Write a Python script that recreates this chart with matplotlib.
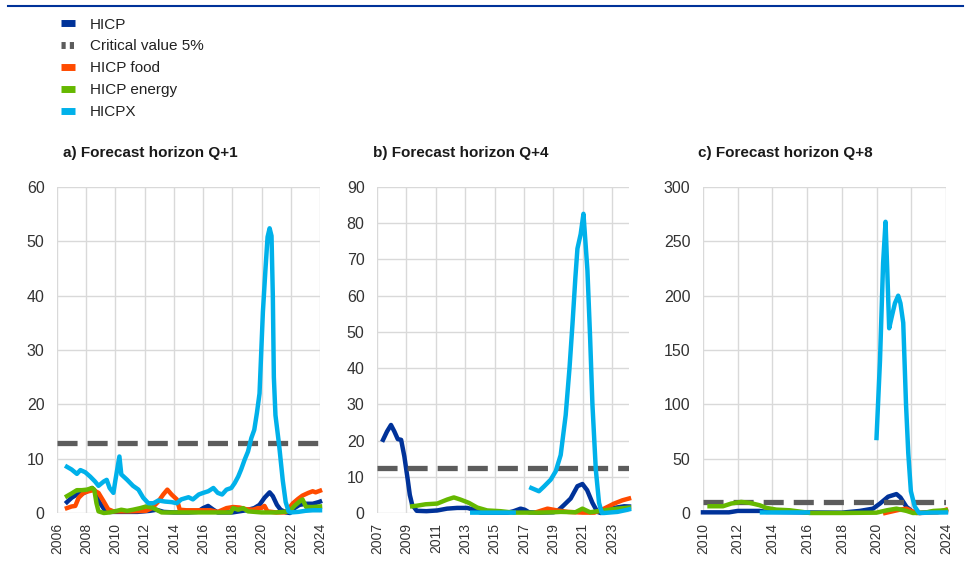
import numpy as np
import matplotlib
matplotlib.use("Agg")
import matplotlib.pyplot as plt
from matplotlib.lines import Line2D

plt.rcParams['font.family'] = ['Liberation Sans', 'DejaVu Sans']

# Colores de las series
col_hicp = "#003299"
col_crit = "#5c5c5c"
col_food = "#ff4b00"
col_energy = "#65b800"
col_hicpx = "#00b1ea"

nombres = ["HICP", "Critical value 5%", "HICP food", "HICP energy", "HICPX"]
titulos = ["a) Forecast horizon Q+1", "b) Forecast horizon Q+4", "c) Forecast horizon Q+8"]

# ---------------- Panel a) Q+1 ----------------
a_crit = 12.8
a_hicp_t = [2006.68, 2007.0, 2007.36, 2007.7, 2008.05, 2008.4, 2008.6, 2008.9, 2009.3, 2009.6, 2010.5, 2011.5,
            2012.36, 2012.8, 2013.3, 2014.0, 2015.0, 2015.6, 2016.0, 2016.34, 2016.7, 2017.0, 2018.0, 2018.95,
            2019.5, 2019.86, 2020.2, 2020.55, 2020.77, 2021.05, 2021.3, 2021.68, 2021.95, 2022.25, 2022.6,
            2023.05, 2023.5, 2023.9, 2024.0]
a_hicp_v = [2.0, 2.8, 3.4, 3.5, 4.0, 4.6, 4.0, 2.0, 0.4, 0.2, 0.2, 0.2,
            0.4, 0.6, 0.2, 0.1, 0.1, 0.2, 0.9, 1.3, 0.6, 0.1, 0.1, 0.5,
            0.9, 1.5, 2.8, 3.8, 3.1, 1.5, 0.6, 0.1, 0.0, 0.9, 1.5,
            1.7, 1.7, 2.0, 2.1]
a_food_t = [2006.68, 2007.0, 2007.25, 2007.48, 2007.82, 2008.16, 2008.5, 2008.84, 2009.2, 2009.5, 2009.86,
            2011.0, 2012.1, 2012.5, 2012.93, 2013.27, 2013.55, 2013.84, 2014.2, 2014.4, 2014.86, 2016.5,
            2017.0, 2017.6, 2018.05, 2018.5, 2018.95, 2019.4, 2019.75, 2019.98, 2020.2, 2020.4, 2021.0,
            2021.6, 2021.8, 2022.15, 2022.5, 2022.8, 2023.2, 2023.5, 2023.7, 2024.0]
a_food_v = [0.9, 1.2, 1.3, 2.8, 3.7, 4.0, 4.2, 3.7, 2.1, 0.7, 0.3,
            0.3, 0.4, 0.9, 2.1, 3.4, 4.3, 3.4, 2.5, 0.6, 0.5, 0.5,
            0.2, 0.9, 1.1, 1.0, 0.7, 0.6, 0.9, 0.9, 1.3, 0.3, 0.1,
            0.1, 0.6, 1.8, 2.6, 3.2, 3.7, 4.0, 3.8, 4.1]
a_energy_t = [2006.68, 2007.0, 2007.36, 2007.7, 2008.05, 2008.4, 2008.55, 2008.7, 2008.84, 2009.2, 2009.6,
              2010.1, 2010.4, 2010.8, 2011.2, 2011.7, 2012.1, 2012.5, 2012.8, 2013.16, 2015.0, 2017.9,
              2018.05, 2018.4, 2018.73, 2019.07, 2020.0, 2021.0, 2021.9, 2022.25, 2022.6, 2022.8, 2023.05,
              2023.5, 2024.0]
a_energy_v = [3.1, 3.6, 4.2, 4.2, 4.3, 4.6, 4.3, 1.8, 0.3, 0.0, 0.1,
              0.4, 0.6, 0.4, 0.6, 0.9, 1.2, 1.0, 0.6, 0.1, 0.1, 0.1,
              0.9, 0.6, 0.9, 0.3, 0.1, 0.1, 0.3, 1.3, 2.1, 2.5, 1.1,
              1.1, 1.2]
a_hicpx_t = [2006.68, 2007.0, 2007.36, 2007.6, 2007.93, 2008.27, 2008.6, 2008.84, 2009.2, 2009.4, 2009.6,
             2009.86, 2010.0, 2010.27, 2010.4, 2010.8, 2011.2, 2011.57, 2011.9, 2012.25, 2012.6, 2012.93,
             2013.4, 2013.84, 2014.2, 2014.5, 2015.0, 2015.3, 2015.7, 2016.0, 2016.35, 2016.7, 2017.0,
             2017.3, 2017.6, 2017.93, 2018.16, 2018.4, 2018.6, 2018.84, 2019.07, 2019.3, 2019.5, 2019.68,
             2019.86, 2020.09, 2020.27, 2020.41, 2020.55, 2020.68, 2020.77, 2020.84, 2020.95, 2021.2,
             2021.45, 2021.65, 2021.85, 2022.0, 2022.5, 2023.0, 2023.5, 2024.0]
a_hicpx_v = [8.5, 8.0, 7.2, 7.9, 7.5, 6.7, 5.8, 5.0, 5.8, 6.1, 4.6,
             3.7, 6.1, 10.4, 7.1, 6.1, 5.0, 4.3, 2.8, 1.8, 1.8, 2.3,
             2.1, 2.0, 1.8, 2.5, 2.9, 2.5, 3.4, 3.7, 4.0, 4.6, 3.7,
             3.4, 4.3, 4.6, 5.5, 6.7, 8.0, 9.8, 11.3, 13.8, 15.3, 18.4,
             22.0, 37.0, 45.0, 50.8, 52.4, 51.0, 40.0, 25.0, 18.0, 12.5,
             6.0, 2.0, 0.3, 0.1, 0.2, 0.4, 0.5, 0.5]

# ---------------- Panel b) Q+4 ----------------
b_crit = 12.5
b_hicp_t = [2007.41, 2007.68, 2007.95, 2008.18, 2008.41, 2008.64, 2008.86, 2009.09, 2009.23, 2009.39, 2009.7,
            2010.36, 2011.1, 2011.77, 2012.45, 2013.14, 2013.6, 2014.05, 2015.9, 2016.3, 2016.77, 2017.05,
            2017.34, 2018.0, 2019.0, 2019.27, 2019.7, 2020.18, 2020.64, 2020.98, 2021.3, 2021.66, 2022.0,
            2022.23, 2022.68, 2023.14, 2023.82, 2024.15]
b_hicp_v = [20.2, 22.5, 24.3, 22.5, 20.4, 20.2, 15.6, 9.2, 5.0, 2.3, 0.6,
            0.5, 0.7, 1.2, 1.4, 1.4, 0.9, 0.1, 0.1, 0.5, 1.2, 0.9,
            0.2, 0.1, 0.2, 0.5, 2.1, 4.0, 7.4, 8.0, 6.3, 2.8, 0.3,
            0.0, 0.9, 1.4, 1.85, 1.8]
b_food_t = [2017.9, 2018.6, 2019.27, 2020.0, 2021.0, 2021.8, 2022.45, 2023.14, 2023.7, 2024.15]
b_food_v = [0.3, 1.2, 0.7, 0.3, 0.1, 0.1, 1.2, 2.6, 3.5, 4.0]
b_energy_t = [2009.39, 2009.7, 2010.3, 2011.1, 2011.77, 2012.23, 2012.68, 2013.25, 2013.82, 2014.5, 2015.4,
              2016.3, 2017.0, 2018.0, 2019.0, 2019.5, 2020.5, 2020.98, 2021.5, 2022.45, 2023.36, 2024.15]
b_energy_v = [1.85, 2.0, 2.4, 2.6, 3.7, 4.3, 3.7, 2.8, 1.5, 0.7, 0.5,
              0.1, 0.1, 0.1, 0.2, 0.3, 0.2, 1.2, 0.2, 0.7, 1.2, 1.5]
b_hicpx_t = [2013.48, 2014.5, 2015.5, 2016.3, np.nan, 2017.5, 2018.02, 2018.36, 2018.82, 2019.16, 2019.5,
             2019.84, 2020.1, 2020.3, 2020.5, 2020.64, 2020.86, 2021.05, 2021.32, 2021.5, 2021.66, 2021.89,
             2022.11, 2022.3, 2022.45, 2023.36, 2024.05, 2024.15]
b_hicpx_v = [0.1, 0.1, 0.1, 0.1, np.nan, 6.9, 6.0, 7.3, 9.2, 11.5, 16.0,
             27.0, 40.0, 52.0, 65.0, 73.0, 77.0, 82.6, 67.0, 48.7, 30.0, 12.0,
             2.8, 0.0, 0.0, 0.3, 0.9, 1.0]

# ---------------- Panel c) Q+8 ----------------
c_crit = 10.0
c_hicp_t = [2010.0, 2011.5, 2012.0, 2013.27, 2013.65, 2014.0, 2016.0, 2018.0, 2019.04, 2019.8, 2020.2,
            2020.67, 2021.15, 2021.38, 2021.73, 2022.1, 2022.5, 2023.5, 2024.0]
c_hicp_v = [0.6, 0.6, 1.9, 1.9, 1.0, 1.0, 0.5, 0.3, 1.9, 4.0, 8.7,
            15.0, 17.4, 14.3, 5.6, 0.9, 0.0, 1.5, 1.5]
c_food_t = [2020.5, 2021.35, 2021.73, 2022.0, 2022.3, 2023.5, 2024.0]
c_food_v = [0.0, 3.1, 4.0, 1.9, 0.0, 0.5, 3.0]
c_energy_t = [2010.38, 2011.15, 2011.63, 2012.2, 2012.7, 2013.27, 2013.65, 2014.23, 2015.0, 2015.77, 2016.15,
              2018.0, 2020.0, 2020.6, 2021.15, 2021.73, 2022.1, 2022.8, 2023.27, 2024.0]
c_energy_v = [6.2, 6.2, 8.7, 10.2, 9.3, 7.1, 4.7, 3.1, 2.5, 0.9, 0.0,
              0.0, 0.3, 2.5, 4.0, 1.9, 0.0, 0.3, 1.9, 2.5]
c_hicpx_t = [2013.4, 2014.5, 2015.5, 2016.05, np.nan, 2020.0, 2020.2, 2020.38, 2020.52, 2020.62, 2020.73,
             2020.87, 2021.06, 2021.25, 2021.38, 2021.54, 2021.7, 2021.83, 2021.98, 2022.2, 2022.45, 2023.0,
             2024.0]
c_hicpx_v = [0.5, 0.5, 0.5, 0.5, np.nan, 69, 140, 230, 268, 223, 170,
             180, 193, 200, 193, 175, 100, 55, 20, 6, 0, 0.3,
             0.5]

paneles = [
    dict(pos=[0.0589, 0.1016, 0.2717, 0.5709], xlim=(2006, 2024), xt=np.arange(2006, 2025, 2),
         ylim=(0, 60), yt=np.arange(0, 61, 10), crit=a_crit,
         series=[(a_hicp_t, a_hicp_v), (a_food_t, a_food_v), (a_energy_t, a_energy_v), (a_hicpx_t, a_hicpx_v)]),
    dict(pos=[0.3895, 0.1016, 0.2603, 0.5709], xlim=(2007, 2024.15), xt=np.arange(2007, 2024, 2),
         ylim=(0, 90), yt=np.arange(0, 91, 10), crit=b_crit,
         series=[(b_hicp_t, b_hicp_v), (b_food_t, b_food_v), (b_energy_t, b_energy_v), (b_hicpx_t, b_hicpx_v)]),
    dict(pos=[0.7262, 0.1016, 0.2510, 0.5709], xlim=(2010, 2024), xt=np.arange(2010, 2025, 2),
         ylim=(0, 300), yt=np.arange(0, 301, 50), crit=c_crit,
         series=[(c_hicp_t, c_hicp_v), (c_food_t, c_food_v), (c_energy_t, c_energy_v), (c_hicpx_t, c_hicpx_v)]),
]

fig = plt.figure(figsize=(9.68, 5.71), dpi=100)
colores = [col_hicp, col_food, col_energy, col_hicpx]

for i, p in enumerate(paneles):
    ax = fig.add_axes(p["pos"])
    # primero HICP, luego la linea critica y el resto
    t, v = p["series"][0]
    ax.plot(t, v, color=col_hicp, lw=3.2, clip_on=False, zorder=3)
    ax.axhline(p["crit"], color=col_crit, lw=3.8, dashes=(3.8, 1.9), zorder=3)
    for (t, v), col in zip(p["series"][1:], colores[1:]):
        ax.plot(t, v, color=col, lw=3.2, clip_on=False, zorder=3)
    ax.set_xlim(p["xlim"])
    ax.set_ylim(p["ylim"])
    ax.set_xticks(p["xt"])
    ax.set_xticklabels([str(x) for x in p["xt"]], rotation=90)
    ax.set_yticks(p["yt"])
    ax.grid(True, color="#d9d9d9", lw=1)
    ax.set_axisbelow(True)
    for s in ax.spines.values():
        s.set_visible(False)
    ax.tick_params(axis="both", length=0, colors="#333333", labelsize=11.5)
    ax.tick_params(axis="y", pad=9)
    ax.tick_params(axis="x", pad=7, labelsize=10)

# titulos de los paneles
fig.text(0.065, 0.732, titulos[0], fontsize=11, fontweight="bold", va="center", color="#1a1a1a")
fig.text(0.385, 0.732, titulos[1], fontsize=11, fontweight="bold", va="center", color="#1a1a1a")
fig.text(0.721, 0.732, titulos[2], fontsize=11, fontweight="bold", va="center", color="#1a1a1a")

# leyenda
handles = [Line2D([], [], color=col_hicp, lw=5, solid_capstyle="butt"),
           Line2D([], [], color=col_crit, lw=5, dashes=(0.6, 0.6)),
           Line2D([], [], color=col_food, lw=5, solid_capstyle="butt"),
           Line2D([], [], color=col_energy, lw=5, solid_capstyle="butt"),
           Line2D([], [], color=col_hicpx, lw=5, solid_capstyle="butt")]
fig.legend(handles, nombres, loc="upper left", bbox_to_anchor=(0.052, 0.988), frameon=False,
           fontsize=11, handlelength=0.9, handletextpad=1.0, labelspacing=0.52, borderpad=0.2,
           labelcolor="#222222")

# linea azul superior
fig.add_artist(Line2D([0.008, 0.995], [0.9895, 0.9895], transform=fig.transFigure, color=col_hicp, lw=1.5))

plt.savefig("out.png", dpi=100)
